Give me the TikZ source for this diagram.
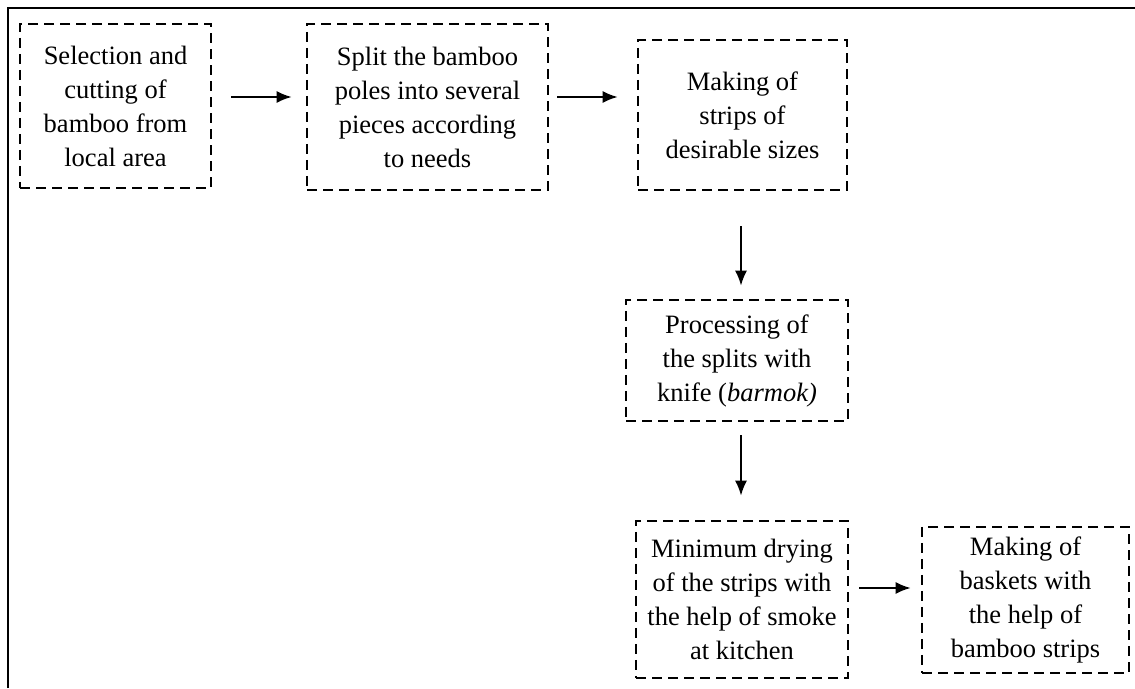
\documentclass[tikz,border=0pt]{standalone}
\usepackage{fontspec}
\setmainfont{Liberation Serif}
\usetikzlibrary{arrows.meta}

\begin{document}
\begin{tikzpicture}[x=1pt,y=1pt,
	stepbox/.style={draw, line width=2.8pt, dash pattern=on 10pt off 6pt, align=center, inner sep=0pt,
		font=\fontsize{26.5}{34}\selectfont},
	flow/.style={-{Latex[length=15pt,width=12pt]}, line width=1.6pt}]
			\useasboundingbox (0,0) rectangle (1135,688);
			\draw[line width=2pt] (8,0) -- (8,680) -- (1135,680);
			% boxes
			\node[stepbox, minimum width=191pt, minimum height=164pt] (select) at (115.5,582) {Selection and\\cutting of\\bamboo from\\local area};
			\node[stepbox, minimum width=241pt, minimum height=166pt] (split) at (427.5,581) {Split the bamboo\\poles into several\\pieces according\\to needs};
			\node[stepbox, minimum width=209pt, minimum height=150pt] (strips) at (742.5,573) {Making of\\strips of\\desirable sizes};
			\node[stepbox, minimum width=222pt, minimum height=121pt] (knife) at (737,327.5) {Processing of\\the splits with\\knife (\textit{barmok)}};
			\node[stepbox, minimum width=212pt, minimum height=157pt] (drying) at (742,88.5) {Minimum drying\\of the strips with\\the help of smoke\\at kitchen};
			\node[stepbox, minimum width=207pt, minimum height=146pt] (basket) at (1025.5,88) {Making of\\baskets with\\the help of\\bamboo strips};
			% arrows
			\draw[flow] ([xshift=19pt,yshift=9pt]select.east) -- ([xshift=-14pt,yshift=10pt]split.west);
			\draw[flow] ([xshift=8pt,yshift=10pt]split.east) -- ([xshift=-19pt,yshift=18pt]strips.west);
			\draw[flow] ([xshift=-1.5pt,yshift=-35pt]strips.south) -- ([xshift=4pt,yshift=13pt]knife.north);
			\draw[flow] ([xshift=4pt,yshift=-13pt]knife.south) -- ([xshift=-1pt,yshift=24pt]drying.north);
			\draw[flow] ([xshift=10pt,yshift=11.5pt]drying.east) -- ([xshift=-10pt,yshift=12pt]basket.west);
			
			\end{tikzpicture}
\end{document}
